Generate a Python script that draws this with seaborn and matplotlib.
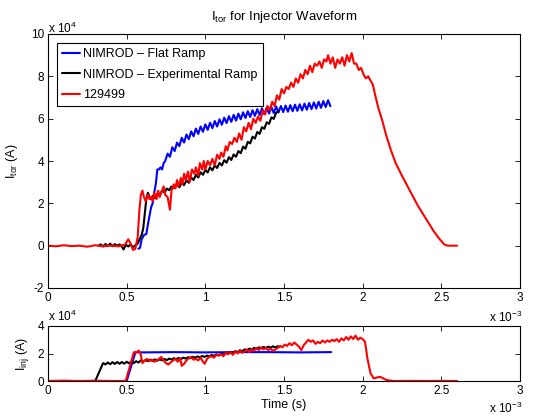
import seaborn as sns
import matplotlib.pyplot as plt
from matplotlib.ticker import FuncFormatter, MultipleLocator

# time in ms, currents in units of 1e4 A (multipliers drawn as text, like MATLAB)

# --- Itor, NIMROD flat ramp
flat_t = [0.575, 0.585, 0.595, 0.61, 0.625, 0.635, 0.645, 0.655, 0.665, 0.675, 0.685, 0.695,
          0.705, 0.715, 0.725, 0.735, 0.745,
          0.760, 0.775, 0.790, 0.805, 0.820, 0.835, 0.850, 0.865, 0.880, 0.895, 0.910, 0.925,
          0.940, 0.955, 0.970, 0.985, 1.000, 1.015, 1.030, 1.045, 1.060, 1.075, 1.090, 1.105,
          1.120, 1.135, 1.150, 1.165, 1.180, 1.195, 1.210, 1.225, 1.240, 1.255, 1.270, 1.285,
          1.300, 1.315, 1.330, 1.345, 1.360, 1.375, 1.390, 1.405, 1.420, 1.435, 1.450, 1.465,
          1.480, 1.495, 1.510, 1.525, 1.540, 1.555, 1.570, 1.585, 1.600, 1.615, 1.630, 1.645,
          1.660, 1.675, 1.690, 1.705, 1.720, 1.735, 1.750, 1.765, 1.780, 1.795]
flat_itor = [-0.15, -0.1, 0.3, 0.5, 0.55, 1.0, 1.4, 1.8, 2.0, 2.5, 2.9, 3.6,
             3.6, 3.7, 3.6, 3.9, 4.0,
             4.35, 4.20, 4.65, 4.47, 4.87, 4.70, 5.10, 4.87, 5.25, 5.03, 5.40, 5.17,
             5.53, 5.28, 5.63, 5.38, 5.73, 5.47, 5.81, 5.55, 5.89, 5.63, 5.97, 5.71,
             6.05, 5.79, 6.12, 5.85, 6.18, 5.91, 6.24, 5.97, 6.30, 6.03, 6.35, 6.08,
             6.40, 6.13, 6.45, 6.17, 6.49, 6.21, 6.52, 6.24, 6.55, 6.26, 6.58, 6.29,
             6.60, 6.31, 6.62, 6.33, 6.64, 6.35, 6.66, 6.37, 6.68, 6.39, 6.71, 6.42,
             6.74, 6.45, 6.77, 6.48, 6.80, 6.51, 6.83, 6.55, 6.87, 6.59]

# --- Itor, NIMROD experimental ramp
exp_t = [0.32, 0.335, 0.35, 0.365, 0.38, 0.395, 0.41, 0.425, 0.44, 0.455, 0.47, 0.48, 0.495,
         0.51, 0.525, 0.54, 0.555, 0.57, 0.585, 0.595, 0.605, 0.615, 0.625, 0.635, 0.645,
         0.655, 0.665, 0.68, 0.695, 0.71, 0.725, 0.74, 0.755, 0.77, 0.785, 0.80,
         0.820, 0.835, 0.850, 0.865, 0.880, 0.895, 0.910, 0.925, 0.940, 0.955, 0.970, 0.985,
         1.000, 1.015, 1.030, 1.045, 1.060, 1.075, 1.090, 1.105, 1.120, 1.135, 1.150, 1.165,
         1.180, 1.195, 1.210, 1.225, 1.240, 1.255, 1.270, 1.285, 1.300, 1.315, 1.330, 1.345,
         1.360, 1.375, 1.390, 1.405, 1.420, 1.435, 1.450, 1.465]
exp_itor = [0.0, 0.06, -0.04, 0.08, -0.02, 0.1, -0.03, 0.07, 0.0, 0.06, -0.05, -0.18, 0.04,
            -0.04, 0.06, -0.08, 0.02, 0.1, 0.35, 0.5, 0.8, 1.5, 2.2, 2.5, 2.3,
            2.2, 2.35, 2.25, 2.45, 2.4, 2.6, 2.5, 2.7, 2.62, 2.8, 2.72,
            2.88, 2.76, 2.98, 2.86, 3.09, 2.97, 3.22, 3.10, 3.35, 3.22, 3.47, 3.35,
            3.58, 3.46, 3.70, 3.56, 3.80, 3.67, 3.91, 3.79, 4.04, 3.92, 4.18, 4.05,
            4.31, 4.20, 4.47, 4.37, 4.68, 4.58, 4.91, 4.83, 5.15, 5.06, 5.37, 5.28,
            5.60, 5.52, 5.83, 5.75, 6.06, 5.99, 6.28, 6.35]

# --- Itor, shot 129499
shot_t = [0.0, 0.05, 0.1, 0.15, 0.2, 0.25, 0.3, 0.35, 0.4, 0.45, 0.49, 0.51, 0.525, 0.54,
          0.555, 0.57, 0.58, 0.59, 0.6, 0.61, 0.62, 0.635, 0.645, 0.655, 0.665, 0.675, 0.69,
          0.70, 0.71, 0.72, 0.735, 0.745, 0.76, 0.775, 0.785, 0.80, 0.81, 0.82, 0.83, 0.845,
          0.855, 0.865, 0.875, 0.89, 0.90, 0.915, 0.93, 0.94, 0.955, 0.965, 0.98, 0.99, 1.0,
          1.015, 1.03, 1.045, 1.06, 1.075, 1.09, 1.1, 1.115, 1.13, 1.14, 1.155, 1.17, 1.185,
          1.2, 1.215, 1.23, 1.245, 1.26, 1.275, 1.29, 1.305, 1.32, 1.335, 1.35, 1.365, 1.38,
          1.395, 1.41, 1.425, 1.44, 1.455, 1.47, 1.485, 1.5, 1.515, 1.53, 1.545, 1.56, 1.575,
          1.59, 1.605, 1.62, 1.635, 1.65, 1.665, 1.68, 1.695, 1.71, 1.725, 1.74, 1.755, 1.77,
          1.78, 1.795, 1.81, 1.825, 1.84, 1.855, 1.87, 1.885, 1.9, 1.915, 1.93, 1.945, 1.96,
          1.975, 1.99, 2.005, 2.02, 2.035, 2.05, 2.065, 2.08, 2.1, 2.125, 2.15, 2.18, 2.21,
          2.25, 2.3, 2.35, 2.4, 2.45, 2.49, 2.52, 2.54, 2.6]
shot_itor = [0.0, -0.03, 0.02, -0.02, 0.0, -0.05, 0.02, -0.03, 0.0, -0.03, 0.05, 0.3, 0.1, -0.2,
             -0.15, 0.4, 1.6, 2.4, 2.6, 2.3, 2.1, 2.4, 2.2, 2.3, 2.1, 2.5, 2.2,
             2.6, 2.3, 2.5, 2.8, 2.4, 2.3, 1.7, 2.6, 2.9, 2.7, 3.1, 2.8, 3.2,
             2.9, 3.4, 3.1, 3.5, 3.0, 3.6, 3.4, 3.7, 3.3, 3.9, 3.6, 4.0, 3.6,
             4.0, 3.8, 4.1, 3.8, 4.3, 4.1, 4.4, 4.2, 4.7, 4.5, 4.9, 4.8, 5.1,
             4.9, 5.3, 5.0, 5.6, 5.4, 5.8, 5.5, 6.0, 5.8, 6.1, 5.9, 6.4, 6.2,
             6.6, 6.4, 6.8, 6.6, 7.1, 6.9, 7.4, 7.2, 7.5, 7.4, 7.7, 7.5, 7.9,
             7.7, 8.1, 7.9, 8.3, 8.1, 8.5, 8.2, 8.6, 8.5, 8.7, 8.4, 8.8, 8.7,
             9.0, 8.6, 8.9, 8.4, 8.8, 8.6, 8.9, 8.5, 9.0, 8.7, 9.1, 8.6, 8.6,
             8.3, 8.4, 8.1, 7.9, 8.0, 7.8, 7.6, 7.1, 6.5, 5.9, 5.2, 4.5, 3.9,
             3.3, 2.6, 1.9, 1.3, 0.7, 0.3, 0.05, 0.0, 0.0]

# --- Iinj
flat_inj_t = [0.0, 0.5, 0.556, 0.6, 0.8, 1.0, 1.2, 1.4, 1.6, 1.8]
flat_inj = [0.0, 0.0, 2.1, 2.08, 2.1, 2.08, 2.1, 2.1, 2.08, 2.1]

exp_inj_t = [0.0, 0.3, 0.35, 0.365, 0.38, 0.395, 0.41, 0.425, 0.44, 0.455, 0.47, 0.485, 0.50,
             0.515, 0.53, 0.545, 0.56, 0.575, 0.59, 0.605, 0.62, 0.635, 0.65, 0.665, 0.68,
             0.695, 0.71, 0.725, 0.74, 0.755, 0.77, 0.785, 0.80, 0.815, 0.83, 0.845, 0.86,
             0.875, 0.89, 0.905, 0.92, 0.935, 0.95, 0.965, 0.98, 0.995, 1.01, 1.025, 1.04,
             1.055, 1.07, 1.085, 1.10, 1.115, 1.13, 1.145, 1.16, 1.175, 1.19, 1.205, 1.22,
             1.235, 1.25, 1.265, 1.28, 1.295, 1.31, 1.325, 1.34, 1.355, 1.37, 1.385, 1.40,
             1.415, 1.43, 1.445, 1.46, 1.47]
exp_inj = [0.0, 0.0, 1.3, 1.2, 1.35, 1.22, 1.37, 1.24, 1.38, 1.25, 1.38, 1.26, 1.4,
           1.28, 1.42, 1.3, 1.44, 1.34, 1.5, 1.4, 1.52, 1.44, 1.55, 1.46, 1.57,
           1.48, 1.58, 1.5, 1.6, 1.52, 1.63, 1.56, 1.66, 1.58, 1.68, 1.6, 1.7,
           1.63, 1.73, 1.66, 1.76, 1.69, 1.79, 1.72, 1.82, 1.75, 1.85, 1.78, 1.89,
           1.82, 1.93, 1.86, 1.98, 1.91, 2.04, 1.97, 2.1, 2.03, 2.17, 2.1, 2.24,
           2.16, 2.3, 2.22, 2.36, 2.28, 2.41, 2.33, 2.45, 2.37, 2.48, 2.4, 2.5,
           2.42, 2.52, 2.44, 2.53, 2.47]

shot_inj_t = [0.0, 0.1, 0.2, 0.3, 0.4, 0.494, 0.546, 0.56, 0.577, 0.59, 0.6, 0.615, 0.63,
              0.645, 0.66, 0.675, 0.69, 0.705, 0.72, 0.735, 0.75, 0.765, 0.78, 0.795, 0.81,
              0.825, 0.84, 0.85, 0.865, 0.88, 0.895, 0.91, 0.925, 0.94, 0.955, 0.97, 0.985,
              0.996, 1.01, 1.025, 1.04, 1.055, 1.07, 1.085, 1.10, 1.115, 1.13, 1.145, 1.16,
              1.175, 1.19, 1.205, 1.22, 1.235, 1.25, 1.265, 1.28, 1.295, 1.31, 1.325, 1.34,
              1.355, 1.37, 1.385, 1.40, 1.415, 1.43, 1.445, 1.46, 1.475, 1.49, 1.505, 1.52,
              1.535, 1.55, 1.565, 1.58, 1.595, 1.61, 1.625, 1.64, 1.655, 1.67, 1.685, 1.70,
              1.715, 1.73, 1.745, 1.76, 1.775, 1.79, 1.805, 1.82, 1.835, 1.85, 1.865, 1.88,
              1.895, 1.91, 1.925, 1.94, 1.955, 1.97, 1.985, 2.0, 2.015, 2.03, 2.05, 2.07,
              2.09, 2.11, 2.13, 2.15, 2.2, 2.3, 2.4, 2.5, 2.6]
shot_inj = [0.0, 0.02, -0.01, 0.02, 0.0, 0.0, 2.1, 2.05, 2.22, 1.9, 1.3, 1.5, 1.6,
            1.45, 1.55, 1.4, 1.5, 1.6, 1.75, 1.5, 1.3, 1.2, 1.35, 1.5, 1.6,
            1.4, 1.65, 1.1, 1.25, 1.5, 1.65, 1.75, 1.55, 1.6, 1.5, 1.7, 1.4,
            1.25, 1.6, 1.75, 1.8, 1.7, 1.9, 1.85, 1.95, 1.8, 2.05, 1.95, 2.1,
            1.9, 2.15, 2.0, 2.2, 2.05, 2.15, 2.3, 2.1, 2.3, 2.2, 2.4, 2.25,
            2.45, 2.3, 2.4, 2.25, 2.35, 2.2, 2.3, 2.4, 2.55, 2.45, 2.65, 2.55,
            2.75, 2.6, 2.8, 2.65, 2.5, 2.25, 2.6, 2.8, 3.0, 2.85, 2.95, 2.7,
            2.85, 2.75, 2.95, 2.8, 2.95, 2.85, 3.0, 2.9, 3.05, 2.85, 3.1, 2.95,
            3.2, 3.0, 3.25, 3.05, 3.3, 3.0, 3.15, 3.05, 2.85, 1.65, 0.56, 0.19,
            0.25, 0.3, 0.2, 0.07, 0.0, 0.01, 0.0, 0.01, 0.0]

labels = ['NIMROD \u2013 Flat Ramp', 'NIMROD \u2013 Experimental Ramp', '129499']
colors = ['#0000ff', '#000000', '#ff0000']

sns.set_style("ticks", {"axes.edgecolor": "black", "text.color": "black",
                        "axes.labelcolor": "black", "xtick.color": "black",
                        "ytick.color": "black"})
plt.rcParams['font.family'] = ['Liberation Sans', 'DejaVu Sans']
plt.rcParams['mathtext.default'] = 'regular'
plt.rcParams['axes.unicode_minus'] = False

W, H = 535, 417
fig = plt.figure(figsize=(W / 100, H / 100), dpi=100)
ax1 = fig.add_axes([48 / W, 1 - 288 / H, 472 / W, 254 / H])
ax2 = fig.add_axes([48 / W, 1 - 381 / H, 472 / W, 55 / H])

# top panel: toroidal current
for t, v, c, lab in zip([flat_t, exp_t, shot_t], [flat_itor, exp_itor, shot_itor], colors, labels):
    sns.lineplot(x=t, y=v, ax=ax1, color=c, linewidth=1.5, label=lab, sort=False, estimator=None)

# bottom panel: injector current
for t, v, c in zip([flat_inj_t, exp_inj_t, shot_inj_t], [flat_inj, exp_inj, shot_inj], colors):
    sns.lineplot(x=t, y=v, ax=ax2, color=c, linewidth=1.5, sort=False, estimator=None)

fmt = FuncFormatter(lambda v, p: '%g' % v)
for ax in (ax1, ax2):
    ax.set_xlim(0, 3)
    ax.xaxis.set_major_locator(MultipleLocator(0.5))
    ax.xaxis.set_major_formatter(fmt)
    ax.yaxis.set_major_formatter(fmt)
    ax.tick_params(direction='in', top=True, right=True, length=3.5, width=0.6,
                   labelsize=8.5, pad=3)
    for s in ax.spines.values():
        s.set_linewidth(0.8)
        s.set_color('black')

ax1.set_ylim(-2, 10)
ax1.yaxis.set_major_locator(MultipleLocator(2))
ax2.set_ylim(0, 4)
ax2.yaxis.set_major_locator(MultipleLocator(2))

ax1.set_title('I$_{tor}$ for Injector Waveform', fontsize=9.5, pad=10)
ax1.set_ylabel('I$_{tor}$ (A)', fontsize=9)
ax1.yaxis.set_label_coords(-0.06, 0.5)
ax1.set_xlabel('')
ax2.set_ylabel('I$_{inj}$ (A)', fontsize=9)
ax2.yaxis.set_label_coords(-0.036, 0.5)
ax2.set_xlabel('Time (s)', fontsize=9, labelpad=1)

leg = ax1.legend(loc='upper left', bbox_to_anchor=(0.019, 0.965), borderaxespad=0,
                 fontsize=9, fancybox=False, framealpha=1, edgecolor='black',
                 borderpad=0.4, handlelength=1.45, handletextpad=0.25, labelspacing=0.7)
leg.get_frame().set_linewidth(0.8)

# MATLAB style axis multipliers
fig.text(48 / W, 1 - 28 / H, 'x 10$^{4}$', fontsize=8.5, ha='left', va='center')
fig.text(522 / W, 1 - 317 / H, 'x 10$^{-3}$', fontsize=8.5, ha='right', va='center')
fig.text(48 / W, 1 - 316 / H, 'x 10$^{4}$', fontsize=8.5, ha='left', va='center')
fig.text(522 / W, 1 - 408 / H, 'x 10$^{-3}$', fontsize=8.5, ha='right', va='center')

fig.savefig('out.png', dpi=100)
